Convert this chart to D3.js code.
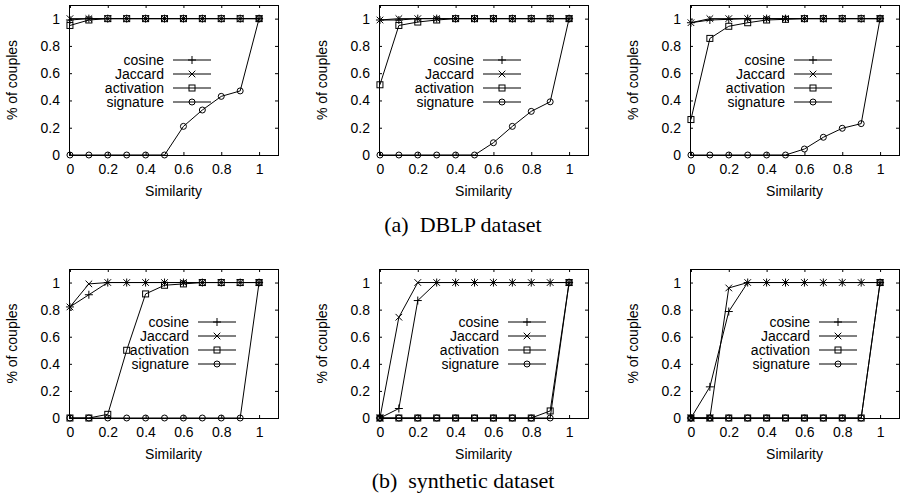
<!DOCTYPE html>
<html>
    <head>
        <style>
            body { margin: 0; background: #fff; }
            text { font-family: "Liberation Sans", Arial, sans-serif; fill: #000; }
            .caption { font-family: "Liberation Serif", "Times New Roman", serif; }
        </style>
    </head>
    <body>
        <svg></svg>

        <script src="https://cdnjs.cloudflare.com/ajax/libs/d3/7.8.5/d3.min.js"></script>
        <script>

            let width = 900
            let height = 501

            // similarity thresholds on the x axis
            const similarity = [0, 0.1, 0.2, 0.3, 0.4, 0.5, 0.6, 0.7, 0.8, 0.9, 1];
            const seriesNames = ['cosine', 'Jaccard', 'activation', 'signature'];
            const xTicks = [0, 0.2, 0.4, 0.6, 0.8, 1];
            const yTicks = [0, 0.2, 0.4, 0.6, 0.8, 1];
            const captions = ['(a)  DBLP dataset', '(b)  synthetic dataset'];

            // each panel: cosine, Jaccard, activation, signature
            const dblp1 = [
                [0.99, 1, 1, 1, 1, 1, 1, 1, 1, 1, 1],
                [1, 1, 1, 1, 1, 1, 1, 1, 1, 1, 1],
                [0.95, 0.99, 1, 1, 1, 1, 1, 1, 1, 1, 1],
                [0, 0, 0, 0, 0, 0, 0.21, 0.33, 0.43, 0.47, 1]
            ];
            const dblp2 = [
                [0.99, 0.99, 1, 1, 1, 1, 1, 1, 1, 1, 1],
                [0.99, 1, 1, 1, 1, 1, 1, 1, 1, 1, 1],
                [0.515, 0.95, 0.975, 0.99, 1, 1, 1, 1, 1, 1, 1],
                [0, 0, 0, 0, 0, 0, 0.09, 0.21, 0.32, 0.39, 1]
            ];
            const dblp3 = [
                [0.97, 0.99, 0.995, 1, 1, 1, 1, 1, 1, 1, 1],
                [0.97, 1, 1, 1, 1, 1, 1, 1, 1, 1, 1],
                [0.26, 0.855, 0.944, 0.97, 0.99, 0.995, 1, 1, 1, 1, 1],
                [0, 0, 0, 0, 0, 0, 0.044, 0.13, 0.196, 0.23, 1]
            ];
            const synth1 = [
                [0.82, 0.91, 1, 1, 1, 1, 1, 1, 1, 1, 1],
                [0.82, 0.99, 1, 1, 1, 1, 1, 1, 1, 1, 1],
                [0, 0, 0.027, 0.5, 0.916, 0.98, 0.99, 1, 1, 1, 1],
                [0, 0, 0, 0, 0, 0, 0, 0, 0, 0, 1]
            ];
            const synth2 = [
                [0, 0.07, 0.867, 1, 1, 1, 1, 1, 1, 1, 1],
                [0, 0.744, 1, 1, 1, 1, 1, 1, 1, 1, 1],
                [0, 0, 0, 0, 0, 0, 0, 0, 0, 0.052, 1],
                [0, 0, 0, 0, 0, 0, 0, 0, 0, 0, 1]
            ];
            const synth3 = [
                [0, 0.23, 0.786, 1, 1, 1, 1, 1, 1, 1, 1],
                [0, 0, 0.96, 1, 1, 1, 1, 1, 1, 1, 1],
                [0, 0, 0, 0, 0, 0, 0, 0, 0, 0, 1],
                [0, 0, 0, 0, 0, 0, 0, 0, 0, 0, 1]
            ];

            // frame positions of the six panels
            const panels = [
                { data: dblp1, left: 69, top: 5, h: 150, key: { x: 95, y: 55 } },
                { data: dblp2, left: 379, top: 5, h: 150, key: { x: 95, y: 55 } },
                { data: dblp3, left: 690, top: 5, h: 150, key: { x: 95, y: 55 } },
                { data: synth1, left: 69, top: 269, h: 149, key: { x: 120, y: 53 } },
                { data: synth2, left: 379, top: 269, h: 149, key: { x: 120, y: 53 } },
                { data: synth3, left: 690, top: 269, h: 149, key: { x: 120, y: 53 } }
            ];
            const frameW = 209;

            const svg = d3.select('svg')
                .attr('width', width).attr('height', height);

            panels.forEach(drawPanel);

            svg.append('text').attr('class', 'caption')
                .attr('x', 463).attr('y', 232)
                .attr('text-anchor', 'middle')
                .style('font-size', '22px')
                .style('white-space', 'pre')
                .text(captions[0]);
            svg.append('text').attr('class', 'caption')
                .attr('x', 463).attr('y', 488)
                .attr('text-anchor', 'middle')
                .style('font-size', '22px')
                .style('white-space', 'pre')
                .text(captions[1]);

            function drawMarker(g, i, cx, cy) {
                if (i == 0) {
                    g.append('path')
                        .attr('d', `M${cx - 4},${cy}H${cx + 4}M${cx},${cy - 4}V${cy + 4}`)
                        .attr('stroke', '#000').attr('fill', 'none');
                } else if (i == 1) {
                    g.append('path')
                        .attr('d', `M${cx - 3.3},${cy - 3.3}L${cx + 3.3},${cy + 3.3}M${cx - 3.3},${cy + 3.3}L${cx + 3.3},${cy - 3.3}`)
                        .attr('stroke', '#000').attr('fill', 'none');
                } else if (i == 2) {
                    g.append('rect')
                        .attr('x', cx - 3).attr('y', cy - 3)
                        .attr('width', 6).attr('height', 6)
                        .attr('stroke', '#000').attr('fill', 'none');
                } else {
                    g.append('circle')
                        .attr('cx', cx).attr('cy', cy).attr('r', 3)
                        .attr('stroke', '#000').attr('fill', 'none');
                }
            }

            function drawPanel(p) {
                const x = d3.scaleLinear().domain([-0.005, 1.1]).range([p.left, p.left + frameW]);
                const y = d3.scaleLinear().domain([0, 1.1]).range([p.top + p.h, p.top]);
                const g = svg.append('g');
                const bottom = p.top + p.h;

                // axes with inward ticks, mirrored on top and right
                g.append('g')
                    .attr('transform', `translate(0,${bottom})`)
                    .call(d3.axisBottom(x).tickValues(xTicks).tickSizeInner(-3).tickSizeOuter(0)
                        .tickFormat(d3.format('~g')).tickPadding(9))
                    .call(a => a.select('.domain').remove())
                    .call(a => a.selectAll('text').style('font-size', '14px').attr('dy', '0.71em'));
                g.append('g')
                    .attr('transform', `translate(0,${p.top})`)
                    .call(d3.axisTop(x).tickValues(xTicks).tickSizeInner(-3).tickSizeOuter(0).tickFormat(''))
                    .call(a => a.select('.domain').remove());
                g.append('g')
                    .attr('transform', `translate(${p.left},0)`)
                    .call(d3.axisLeft(y).tickValues(yTicks).tickSizeInner(-3).tickSizeOuter(0)
                        .tickFormat(d3.format('~g')).tickPadding(9))
                    .call(a => a.select('.domain').remove())
                    .call(a => a.selectAll('text').style('font-size', '14px'));
                g.append('g')
                    .attr('transform', `translate(${p.left + frameW},0)`)
                    .call(d3.axisRight(y).tickValues(yTicks).tickSizeInner(-3).tickSizeOuter(0).tickFormat(''))
                    .call(a => a.select('.domain').remove());
                g.selectAll('.tick line').attr('stroke', '#000');

                g.append('rect')
                    .attr('x', p.left + 0.5).attr('y', p.top + 0.5)
                    .attr('width', frameW).attr('height', p.h)
                    .attr('fill', 'none').attr('stroke', '#000');

                // axis titles
                g.append('text')
                    .attr('x', p.left + frameW / 2).attr('y', bottom + 41)
                    .attr('text-anchor', 'middle').style('font-size', '14px')
                    .text('Similarity');
                g.append('text')
                    .attr('transform', `translate(${p.left - 52},${p.top + p.h / 2}) rotate(-90)`)
                    .attr('text-anchor', 'middle').style('font-size', '14px')
                    .text('% of couples');

                const line = d3.line()
                    .x((d, i) => x(similarity[i]))
                    .y(d => y(d));

                p.data.forEach((values, k) => {
                    const s = g.append('g');
                    s.append('path')
                        .attr('d', line(values))
                        .attr('fill', 'none').attr('stroke', '#000').attr('stroke-width', 1);
                    values.forEach((v, i) => drawMarker(s, k, x(similarity[i]), y(v)));
                });

                // key, rows 14px apart as in the original
                seriesNames.forEach((name, k) => {
                    const ky = p.top + p.key.y + k * 14;
                    g.append('text')
                        .attr('x', p.left + p.key.x).attr('y', ky + 5)
                        .attr('text-anchor', 'end').style('font-size', '14px')
                        .text(name);
                    g.append('line')
                        .attr('x1', p.left + p.key.x + 9).attr('x2', p.left + p.key.x + 47)
                        .attr('y1', ky).attr('y2', ky)
                        .attr('stroke', '#000');
                    drawMarker(g, k, p.left + p.key.x + 28, ky);
                });
            }
        </script>
    </body>
</html>
